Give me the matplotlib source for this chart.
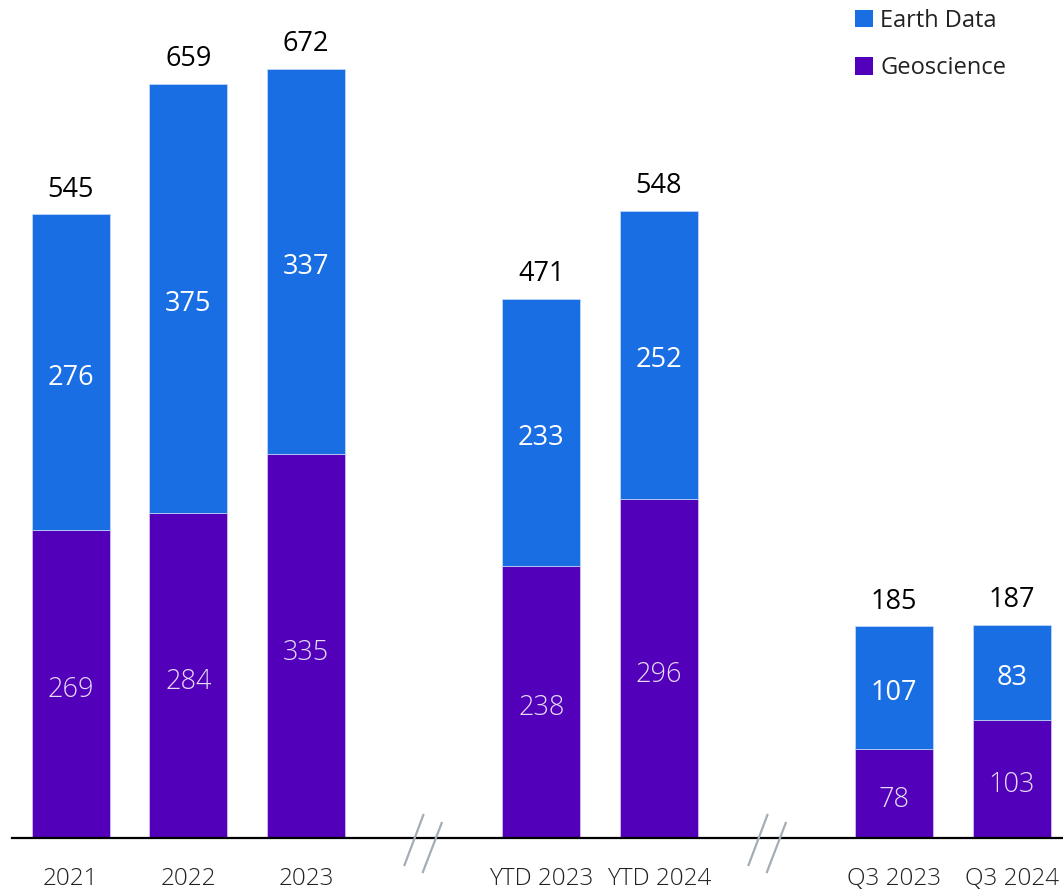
import numpy as np
import matplotlib
matplotlib.use("Agg")
from matplotlib import pyplot as plt
from matplotlib.patches import Patch

plt.rcParams['font.family'] = ['Open Sans', 'DejaVu Sans']

# slot positions along the axis (3 and 6 are left empty for the axis breaks)
categories = ['2021', '2022', '2023', 'YTD 2023', 'YTD 2024', 'Q3 2023', 'Q3 2024']
slots = [0, 1, 2, 4, 5, 7, 8]
geoscience = [269, 284, 335, 238, 296, 78, 103]
earth_data = [276, 375, 337, 233, 252, 107, 83]
totals = [545, 659, 672, 471, 548, 185, 187]
break_slots = [2.995, 5.92]

blue = '#1a6ee4'
purple = '#5200b9'

fig = plt.figure(figsize=(10.63, 8.93), dpi=100)
ax = fig.add_axes([12/1063, 55/893, 1051/1063, 838/893])

x = np.array(slots, dtype=float)
w = 0.663
ax.bar(x, geoscience, width=w, color=purple, edgecolor='#d8ccf0', linewidth=0.5)
ax.bar(x, earth_data, width=w, bottom=geoscience, color=blue, edgecolor='#c8dcf8', linewidth=0.5)

for xi, g, e, t in zip(x, geoscience, earth_data, totals):
    ax.annotate(str(g), (xi, g/2), xytext=(0, -2), textcoords='offset points',
                ha='center', va='center_baseline', fontsize=19.5,
                color='#e6dcf6', fontweight='light')
    ax.annotate(str(e), (xi, g + e/2), xytext=(0, -1.5), textcoords='offset points',
                ha='center', va='center_baseline', fontsize=19.5, color='white')
    ax.annotate(str(t), (xi, t), xytext=(0, 7.5), textcoords='offset points',
                ha='center', va='bottom', fontsize=19.5, color='black')

ax.set_xlim(-0.5, 8.435)
ax.set_ylim(0, 732)
ax.set_xticks(x)
ax.set_xticklabels(categories, fontsize=17.5, fontweight='light', color='#222222')
ax.tick_params(axis='x', length=0, pad=21)
ax.set_yticks([])
for s in ['top', 'right', 'left']:
    ax.spines[s].set_visible(False)
ax.spines['bottom'].set_linewidth(1.6)
ax.spines['bottom'].set_color('black')
ax.spines['bottom'].set_zorder(5)

# axis break marks
for b in break_slots:
    for off, y0, y1 in [(-0.078, -23.6, 20.1), (0.078, -29.7, 13.1)]:
        ax.plot([b + off - 0.08, b + off + 0.08], [y0, y1], color='#a4acb4',
                lw=1.6, clip_on=False, zorder=6)

handles = [Patch(facecolor=blue, label='Earth Data'),
           Patch(facecolor=purple, label='Geoscience')]
ax.legend(handles=handles, loc='upper left', bbox_to_anchor=(822/1051, 1.015),
          frameon=False, fontsize=17, handlelength=0.75, handleheight=0.75,
          handletextpad=0.3, labelspacing=1.0, labelcolor='#222222')

fig.savefig('out.png', dpi=100)
